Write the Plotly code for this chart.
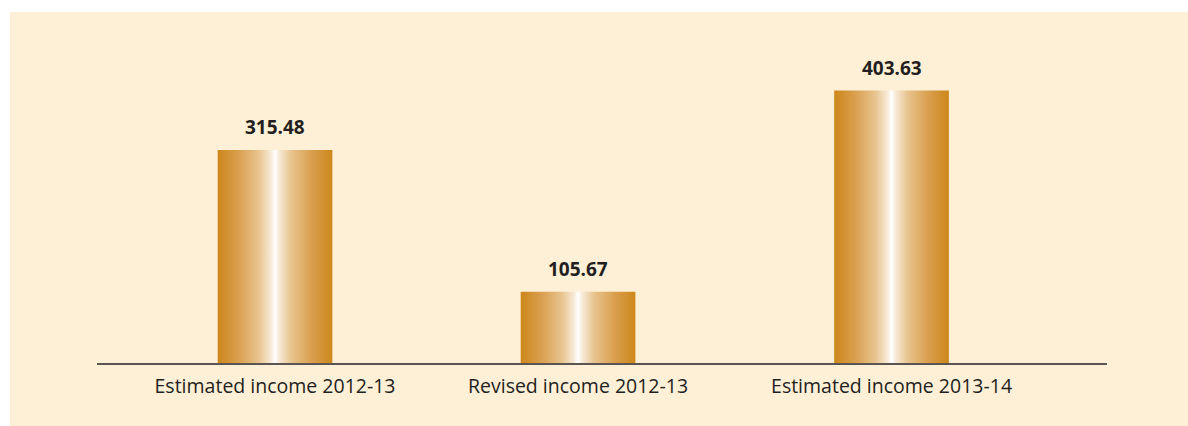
import plotly.graph_objects as go

# Income figures (in crore)
categories = ["Estimated income 2012-13", "Revised income 2012-13", "Estimated income 2013-14"]
values = [315.48, 105.67, 403.63]
value_labels = ["315.48", "105.67", "403.63"]

# Style settings
SLOT_POSITIONS = [0.0, 0.983, 2.0]  # horizontal placement of each category
BAR_HALF_WIDTH = 0.186
PANEL_COLOR = "#FEF0D7"
TEXT_COLOR = "#231F20"
GOLD_SCALE = [
    [0.0, "#CD871A"],
    [0.18, "#D99F4E"],
    [0.36, "#E8C48F"],
    [0.46, "#F6E8D4"],
    [0.5, "#FFFFFF"],
    [0.54, "#F6E8D4"],
    [0.64, "#E8C48F"],
    [0.82, "#D99F4E"],
    [1.0, "#CD871A"],
]

W, H = 1188, 426
ML, MR, MT, MB = 97, 81, 12, 63

fig = go.Figure()

# Each bar is a filled rectangle so it can carry a horizontal metallic gradient
for pos, cat, v, lab in zip(SLOT_POSITIONS, categories, values, value_labels):
    x0, x1 = pos - BAR_HALF_WIDTH, pos + BAR_HALF_WIDTH
    fig.add_trace(go.Scatter(
        x=[x0, x1, x1, x0, x0],
        y=[0, 0, v, v, 0],
        mode="lines",
        line=dict(width=0, color="rgba(0,0,0,0)"),
        fill="toself",
        fillgradient=dict(type="horizontal", colorscale=GOLD_SCALE),
        name=cat,
        hoverinfo="skip",
        showlegend=False,
    ))
    fig.add_annotation(
        x=pos, y=v, text=f"<b>{lab}</b>",
        showarrow=False, yanchor="bottom", yshift=8,
        font=dict(family="Open Sans", size=19, color=TEXT_COLOR),
    )

plot_w = W - ML - MR
plot_h = H - MT - MB

# Cream panel behind the chart
fig.add_shape(
    type="rect", xref="paper", yref="paper", layer="below",
    x0=(10 - ML) / plot_w, x1=(W - ML) / plot_w,
    y0=-MB / plot_h, y1=1.0,
    fillcolor=PANEL_COLOR, line=dict(width=0),
)

fig.update_layout(
    width=W, height=H,
    margin=dict(l=ML, r=MR, t=MT, b=MB),
    paper_bgcolor="white",
    plot_bgcolor="rgba(0,0,0,0)",
    showlegend=False,
    xaxis=dict(
        range=[-0.5775, 2.699],
        tickmode="array",
        tickvals=SLOT_POSITIONS,
        ticktext=categories,
        showgrid=False, zeroline=False,
        showline=True, linecolor="#5A5552", linewidth=2,
        ticks="", ticklabelstandoff=5,
        tickfont=dict(family="Open Sans", size=19.5, color=TEXT_COLOR),
        fixedrange=True,
    ),
    yaxis=dict(
        range=[0, 520], visible=False, fixedrange=True,
    ),
)

fig.write_html("out.html")
